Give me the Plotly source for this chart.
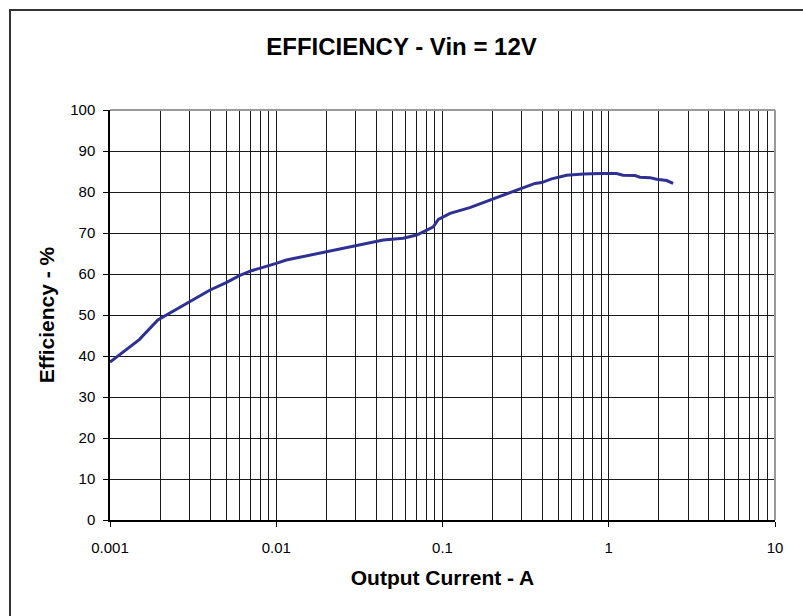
import plotly.graph_objects as go

current_a = [0.001, 0.00125, 0.0015, 0.00194, 0.0025, 0.00303, 0.004, 0.005, 0.006, 0.0071, 0.009,
             0.01, 0.0115, 0.015, 0.0201, 0.025, 0.0304, 0.0366, 0.044, 0.058, 0.0699, 0.0822,
             0.088, 0.0944, 0.111, 0.146, 0.198, 0.255, 0.306, 0.36, 0.395, 0.453, 0.558, 0.703,
             0.9, 1.114, 1.22, 1.439, 1.54, 1.77, 1.94, 2.23, 2.44]
efficiency_pct = [38.5, 41.5, 44.0, 48.8, 51.3, 53.4, 56.1, 57.9, 59.6, 60.8, 61.95,
                  62.6, 63.4, 64.4, 65.4, 66.2, 66.9, 67.6, 68.3, 68.7, 69.5, 70.9,
                  71.5, 73.3, 74.8, 76.2, 78.2, 79.7, 80.9, 82.1, 82.3, 83.2, 84.1, 84.4,
                  84.5, 84.5, 84.1, 84.0, 83.6, 83.5, 83.1, 82.8, 82.1]

x_major = [0.001, 0.01, 0.1, 1, 10]
x_major_text = ["0.001", "0.01", "0.1", "1", "10"]
x_minor = [m * d for d in [0.001, 0.01, 0.1, 1] for m in range(2, 10)]

W, H = 803, 616
L, R, T, B = 110, 28, 110, 96

fig = go.Figure()
fig.add_trace(go.Scatter(x=current_a, y=efficiency_pct, mode="lines",
                         line=dict(color="#2e3192", width=3), showlegend=False))

font = "Liberation Sans, Arial, sans-serif"
fig.update_layout(
    width=W, height=H,
    margin=dict(l=L, r=R, t=T, b=B),
    paper_bgcolor="white", plot_bgcolor="white",
    font=dict(family=font, color="black", size=15),
    title=dict(text="<b>EFFICIENCY - Vin = 12V</b>", x=0.5, xref="container", xanchor="center",
               y=1 - 47 / H, yref="container", yanchor="middle",
               font=dict(size=24, family=font, color="black")),
    xaxis=dict(type="log", range=[-3, 1], tickvals=x_major, ticktext=x_major_text,
               tickfont=dict(size=15, family=font, color="black"),
               showgrid=True, gridcolor="#1a1a1a", gridwidth=1.3,
               ticks="outside", ticklen=5, tickcolor="black", tickwidth=1.3,
               ticklabelstandoff=8,
               showline=True, linecolor="black", linewidth=1.5,
               minor=dict(tickvals=x_minor, showgrid=True, gridcolor="#1a1a1a", gridwidth=1.3, ticks=""),
               zeroline=False,
               title=dict(text="<b>Output Current - A</b>", font=dict(size=21, family=font), standoff=16)),
    yaxis=dict(range=[0, 100], dtick=10, tick0=0,
               tickfont=dict(size=15, family=font, color="black"),
               showgrid=True, gridcolor="#1a1a1a", gridwidth=1.3,
               ticks="outside", ticklen=5, tickcolor="black", tickwidth=1.3,
               ticklabelstandoff=5,
               showline=True, linecolor="black", linewidth=1.5, zeroline=False,
               title=dict(text="<b>Efficiency - %</b>", font=dict(size=21, family=font), standoff=10)),
    shapes=[
        dict(type="line", xref="paper", yref="paper", x0=0, x1=1, y0=1, y1=1,
             line=dict(color="#999999", width=2), layer="above"),
        dict(type="line", xref="paper", yref="paper", x0=1, x1=1, y0=0, y1=1,
             line=dict(color="#999999", width=2), layer="above"),
        dict(type="rect", xref="paper", yref="paper",
             x0=(10 - L) / (W - L - R), x1=(W + 20 - L) / (W - L - R),
             y0=(B - H - 20) / (H - T - B), y1=(H - 10 - B) / (H - T - B),
             line=dict(color="#333333", width=2), fillcolor="rgba(0,0,0,0)", layer="above"),
    ],
)

fig.write_html("out.html", config={"displayModeBar": False},
               post_script="document.body.style.margin='0';document.body.style.overflow='hidden';")
